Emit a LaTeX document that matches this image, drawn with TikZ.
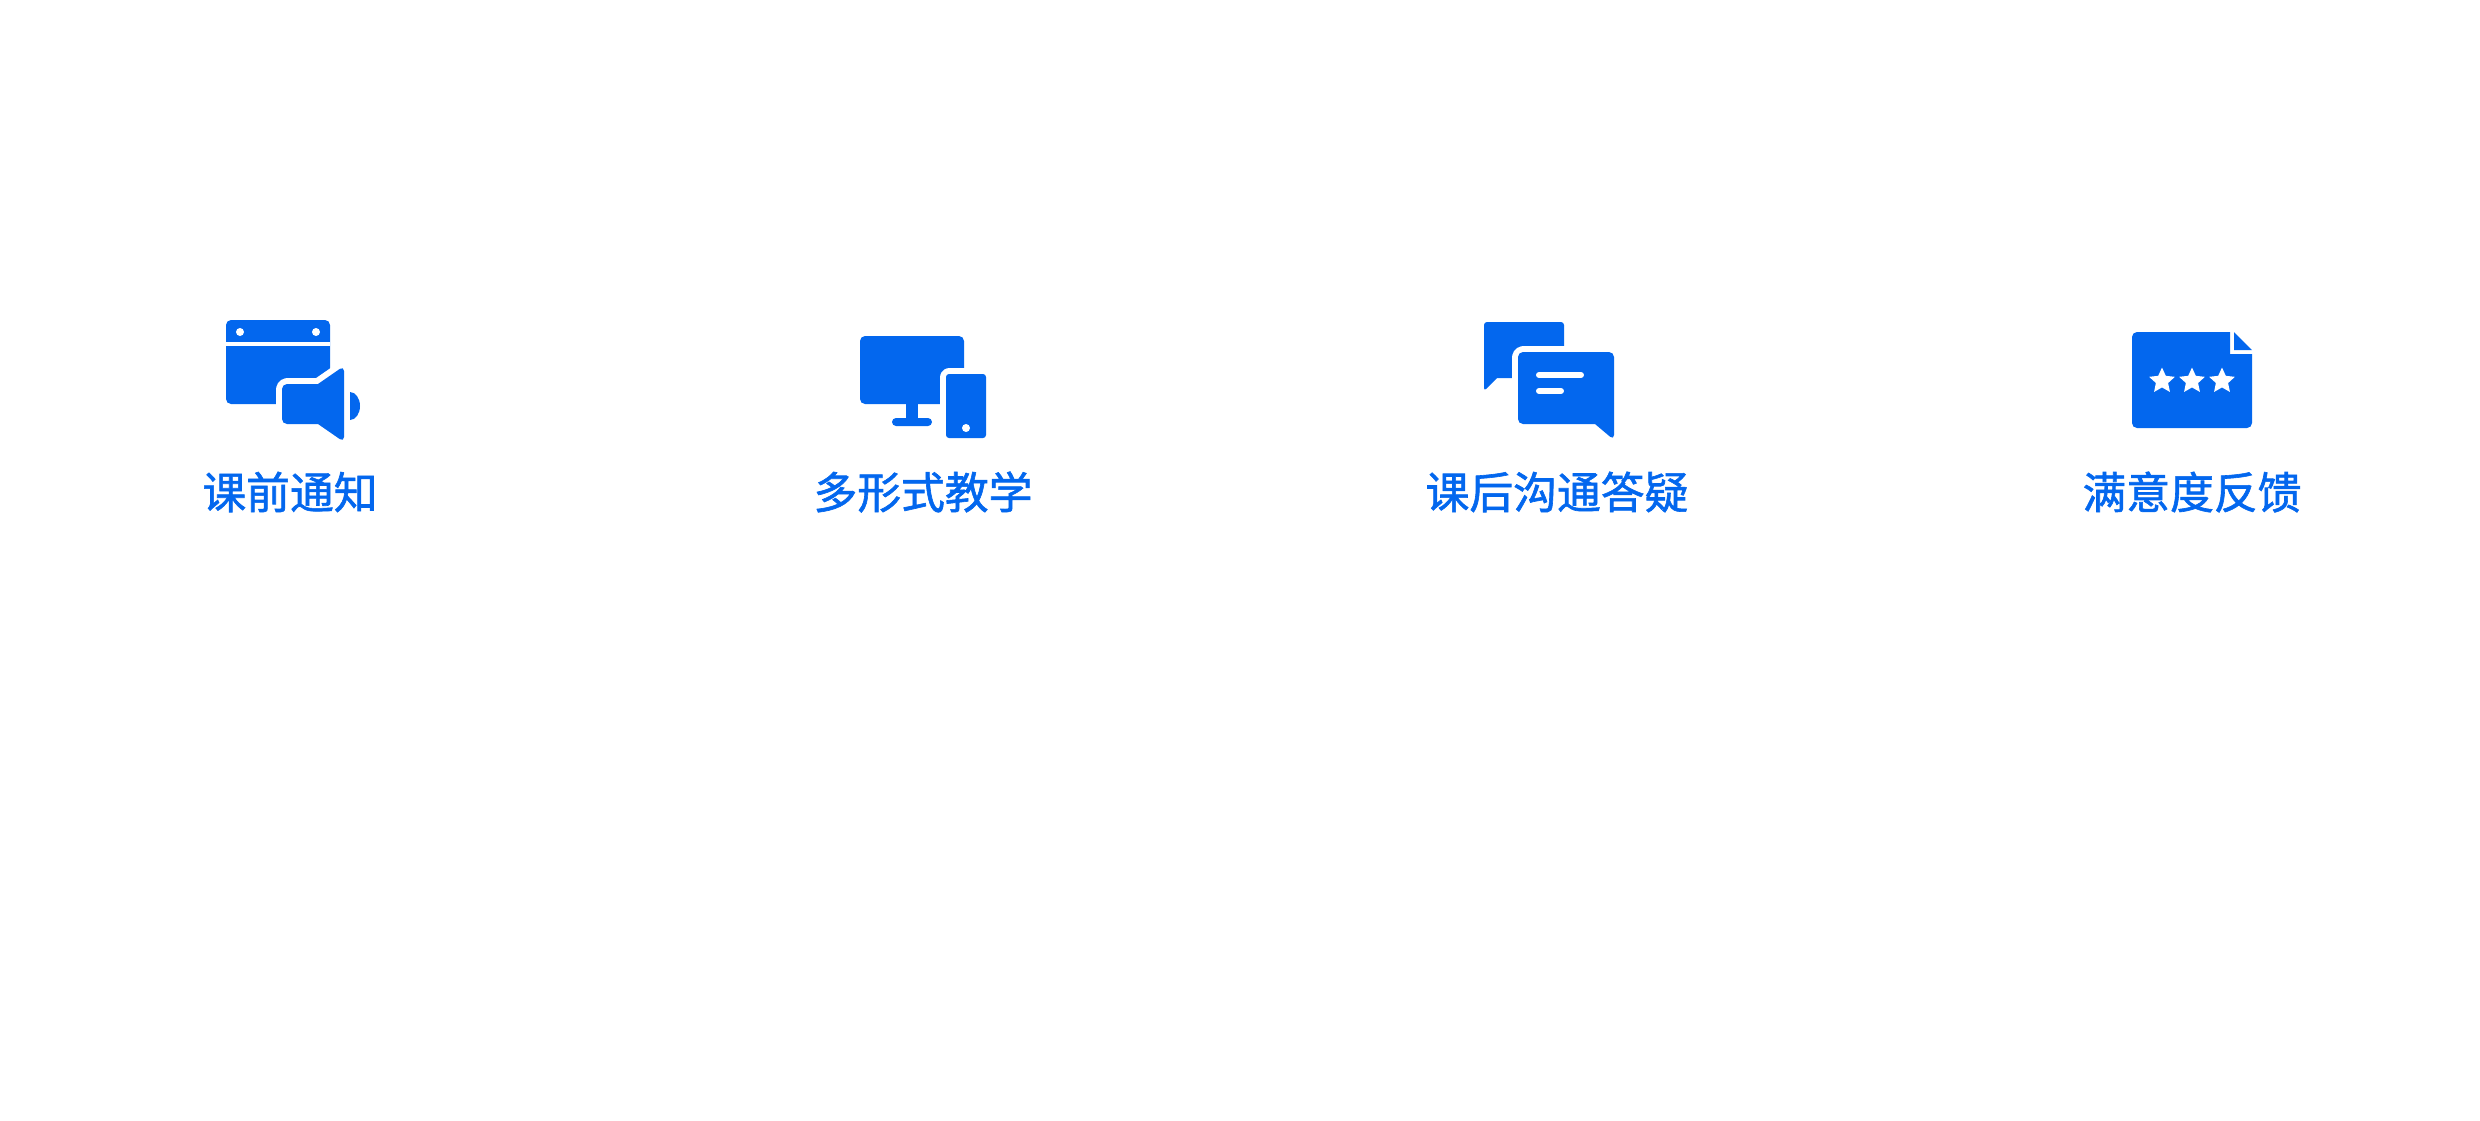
\documentclass[tikz,border=0pt]{standalone}
\usepackage{fontspec}
\usepackage{tikz}
\usetikzlibrary{shapes.geometric}
\newfontfamily\cjk[FakeBold=1.4]{Noto Sans CJK SC}
\definecolor{iconblue}{HTML}{0367EE}
\tikzset{
	icon/.style = {fill = iconblue, draw = none, rounded corners = 0.05cm},
	gapped/.style = {preaction = {draw = white, line width = 3.4pt, line join = round}},
	hole/.style = {fill = white, draw = none},
	bar/.style = {draw = white, line width = 1.7pt, line cap = round},
	caption/.style = {text = iconblue, font = \cjk\fontsize{12.45pt}{14pt}\selectfont, inner sep = 0pt, anchor = center}
}
\begin{document}
\begin{tikzpicture}[x=0.01cm, y=-0.01cm]
    \useasboundingbox (0,0) rectangle (2480,1120);
    % Notice icon
    \path [icon] (226,320) -- (330,320) -- (330,404) -- (226,404) -- cycle;
    \draw [white, line width=1.1pt] (226,344) -- (330,344);
    \fill [hole] (240,332) circle (4) (316,332) circle (4);
    \path [icon, gapped] (282,384) [sharp corners] -- (318,384) [rounded corners=0.05cm] -- (344,366) -- (344,442) [sharp corners] -- (318,424) [rounded corners=0.05cm] -- (282,424) -- cycle;
    \path [fill=iconblue] (350,392) arc (-90:90:10 and 14) -- cycle;
    % Devices icon
    \path [icon] (860,336) -- (964,336) -- (964,404) -- (860,404) -- cycle;
    \path [fill=iconblue] (906,404) rectangle (918,420);
    \path [fill=iconblue, rounded corners=0.04cm] (892,418) rectangle (932,426);
    \path [icon, rounded corners=0.03cm, gapped] (946,374) -- (986,374) -- (986,438) -- (946,438) -- cycle;
    \fill [hole] (966,428) circle (4);
    % Chat icon
    \path [icon, rounded corners=0.03cm] (1484,322) -- (1564,322) -- (1564,378) [sharp corners] -- (1497,378) [rounded corners=0.03cm] -- (1484,391) -- cycle;
    \path [icon, rounded corners=0.05cm, gapped] (1518,352) -- (1614,352) -- (1614,440) [sharp corners] -- (1595,424) [rounded corners=0.05cm] -- (1518,424) -- cycle;
    \draw [bar] (1539,375) -- (1581,375);
    \draw [bar] (1539,391) -- (1561,391);
    % Rating icon
    \path [fill=iconblue] (2230,354) -- (2252,354) [rounded corners=0.05cm] -- (2252,428) -- (2132,428) -- (2132,332) [sharp corners] -- (2230,332) -- cycle;
    \path [fill=iconblue] (2234,332) -- (2252,350) -- (2234,350) -- cycle;
    \foreach \sx in {2162,2192,2222}
        \node [star, star points=5, star point ratio=2.1, fill=white, draw=none, inner sep=0pt, minimum size=0.27cm] (star\sx) at (\sx,381) {};
    % Captions
    \node [caption] (notice) at (290,492) {课前通知};
    \node [caption] (devices) at (923,492) {多形式教学};
    \node [caption] (chat) at (1557,492) {课后沟通答疑};
    \node [caption] (rating) at (2192,492) {满意度反馈};
\end{tikzpicture}
\end{document}
